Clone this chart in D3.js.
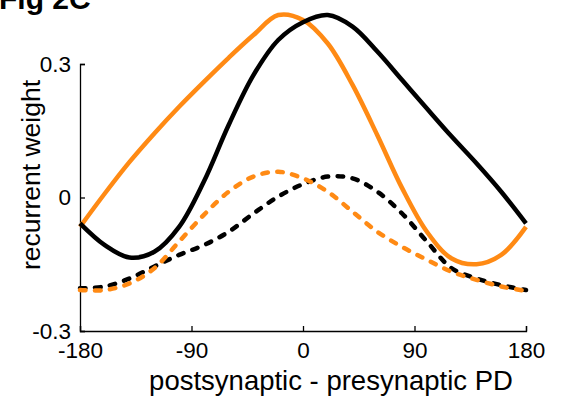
<!DOCTYPE html>
<meta charset="utf-8">
<style>
body{margin:0;font-family:"Liberation Sans",Arial,sans-serif;background:#fff;}
</style>
<body>
<div id="container"></div>
<script src="https://d3js.org/d3.v7.min.js"></script>
<script>

var width = 563,
    height = 401;

// preferred-direction difference, degrees
var pd = [-180,-160,-140,-120,-100,-80,-60,-40,-20,0,20,40,60,80,100,120,140,160,180];

var orangeSolid = [-0.066,0.009,0.080,0.144,0.204,0.260,0.314,0.365,0.410,0.399,0.346,0.253,0.140,0.021,-0.077,-0.137,-0.150,-0.129,-0.066];
var blackSolid  = [-0.058,-0.107,-0.135,-0.122,-0.066,0.036,0.163,0.275,0.354,0.394,0.410,0.384,0.328,0.264,0.200,0.137,0.077,0.013,-0.058];
var orangeDash  = [-0.208,-0.208,-0.193,-0.159,-0.099,-0.039,0.013,0.047,0.058,0.043,0.013,-0.032,-0.077,-0.111,-0.140,-0.167,-0.185,-0.200,-0.210];
var blackDash   = [-0.204,-0.200,-0.182,-0.155,-0.129,-0.107,-0.077,-0.036,0.002,0.030,0.047,0.043,0.013,-0.036,-0.099,-0.159,-0.182,-0.197,-0.208];

var xTicks = [-180,-90,0,90,180];
var xTickLabels = ["-180","-90","0","90","180"];
var yTicks = [-0.3,0,0.3];
var yTickLabels = ["-0.3","0","0.3"];

var orange = "#ff8a14";

var svg = d3.select("#container").append("svg")
    .attr("width", width)
    .attr("height", height);

var x = d3.scaleLinear().domain([-180,180]).range([80,526]);
var y = d3.scaleLinear().domain([-0.3,0.3]).range([331,64]);

// title, mostly cut off at the top
svg.append("text")
    .attr("x", -1)
    .attr("y", 9)
    .style("font-size", "30px")
    .style("font-weight", "bold")
    .text("Fig 2C");

// axes
var xAxis = svg.append("g")
    .attr("transform", "translate(0," + y(-0.3) + ")")
    .call(d3.axisBottom(x).tickValues(xTicks).tickSize(-5).tickPadding(11)
      .tickFormat(function(d, i){ return xTickLabels[i]; }));

var yAxis = svg.append("g")
    .attr("transform", "translate(" + x(-180) + ",0)")
    .call(d3.axisLeft(y).tickValues(yTicks).tickSize(-5).tickPadding(9)
      .tickFormat(function(d, i){ return yTickLabels[i]; }));

[xAxis, yAxis].forEach(function(g){
  g.select(".domain").attr("stroke","#000").attr("stroke-width",1.3);
  g.selectAll(".tick line").attr("stroke","#000").attr("stroke-width",1.3);
  g.selectAll(".tick text").attr("fill","#000")
    .style("font-size","22.5px").style("font-family","Liberation Sans, Arial, sans-serif");
});

svg.append("text")
    .attr("x", 331)
    .attr("y", 390)
    .attr("text-anchor", "middle")
    .style("font-size", "27.5px")
    .text("postsynaptic - presynaptic PD");

svg.append("text")
    .attr("transform", "translate(40,175) rotate(-90)")
    .attr("text-anchor", "middle")
    .style("font-size", "26.5px")
    .text("recurrent weight");

var line = d3.line()
    .x(function(d){ return x(d[0]); })
    .y(function(d){ return y(d[1]); })
    .curve(d3.curveCatmullRom.alpha(0.5));

function pairs(vals){ return pd.map(function(p, i){ return [p, vals[i]]; }); }

var series = [
  {vals: blackDash,   color: "#000", dash: true},
  {vals: orangeDash,  color: orange, dash: true},
  {vals: orangeSolid, color: orange, dash: false},
  {vals: blackSolid,  color: "#000", dash: false}
];

series.forEach(function(s){
  svg.append("path")
      .attr("d", line(pairs(s.vals)))
      .style("fill", "none")
      .style("stroke", s.color)
      .style("stroke-width", 4.5)
      .style("stroke-linecap", s.dash ? "round" : "butt")
      .style("stroke-dasharray", s.dash ? "5.5,9.5" : null);
});

</script>
</body>
</html>
